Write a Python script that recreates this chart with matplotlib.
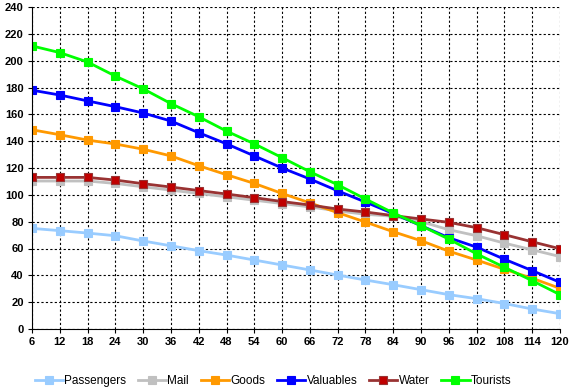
import matplotlib
matplotlib.use("Agg")
import matplotlib.pyplot as plt

hours = [6, 12, 18, 24, 30, 36, 42, 48, 54, 60, 66, 72, 78, 84, 90, 96, 102, 108, 114, 120]
passengers = [75, 73.3, 71.5, 69.5, 65.6, 62, 58.4, 55.1, 51.4, 47.7, 44, 40.2, 36.5, 33, 29.3, 25.6, 22.6, 19, 14.9, 11.4]
mail = [110.3, 110.3, 110.3, 108.5, 106, 103.5, 101, 98.5, 96, 93.5, 91, 88, 85.5, 84, 80, 74, 69.5, 64, 59, 54]
goods = [148.5, 144.8, 140.8, 137.9, 134, 129, 121.7, 115, 108.5, 101, 94, 86.7, 79.7, 72.5, 65.8, 58, 51.4, 44.5, 37.8, 30.3]
valuables = [178, 174.4, 170, 165.7, 161, 155, 146.3, 138, 129, 120, 111.8, 103, 94.6, 86, 77, 68, 61, 52, 43.5, 34.8]
water = [113, 113, 113, 111, 108.3, 105.8, 103.2, 100.6, 97.9, 95, 92.4, 89.4, 87.2, 84.5, 82, 79.5, 75.5, 70.3, 65, 59.8]
tourists = [211, 206, 199, 188.5, 179, 168, 158.2, 147.5, 138, 127.7, 117.2, 107.5, 96.9, 86.5, 77, 67, 56, 46, 36, 25.6]

series = [
    ("Passengers", passengers, "#99CCFF", "#99CCFF"),
    ("Mail", mail, "#C0C0C0", "#C0C0C0"),
    ("Goods", goods, "#FF9900", "#FF9900"),
    ("Valuables", valuables, "#0000FF", "#0000FF"),
    ("Water", water, "#993333", "#C00000"),
    ("Tourists", tourists, "#00FF00", "#00FF00"),
]

fig = plt.figure(figsize=(5.72, 3.89), dpi=100)
ax = fig.add_axes([32/572, 1 - 329/389, (560-32)/572, (329-7)/389])

for name, vals, lc, mc in series:
    ax.plot(hours, vals, color=lc, lw=2, marker="s", markersize=6,
            markerfacecolor=mc, markeredgecolor=lc, markeredgewidth=0.8, label=name)

ax.set_xlim(6, 120)
ax.set_ylim(0, 240)
ax.set_xticks(hours)
ax.set_yticks(range(0, 241, 20))
ax.grid(True, color="black", linestyle=(0, (2, 2)), linewidth=0.8)
ax.set_axisbelow(True)
for s in ["top", "right"]:
    ax.spines[s].set_visible(False)
ax.spines["left"].set_color("black")
ax.spines["bottom"].set_color("black")
ax.tick_params(axis="both", length=3, color="black", labelsize=8, pad=3)
for lab in ax.get_xticklabels() + ax.get_yticklabels():
    lab.set_fontfamily("Liberation Sans")
    lab.set_fontweight("bold")

leg = fig.legend(loc="center", bbox_to_anchor=(273/572, 1 - 381/389), ncol=6,
                 frameon=False, prop={"family": "Liberation Sans", "size": 8.5},
                 handlelength=2.4, handletextpad=0.1, columnspacing=1.0, borderaxespad=0)

fig.savefig("out.png", dpi=100)
